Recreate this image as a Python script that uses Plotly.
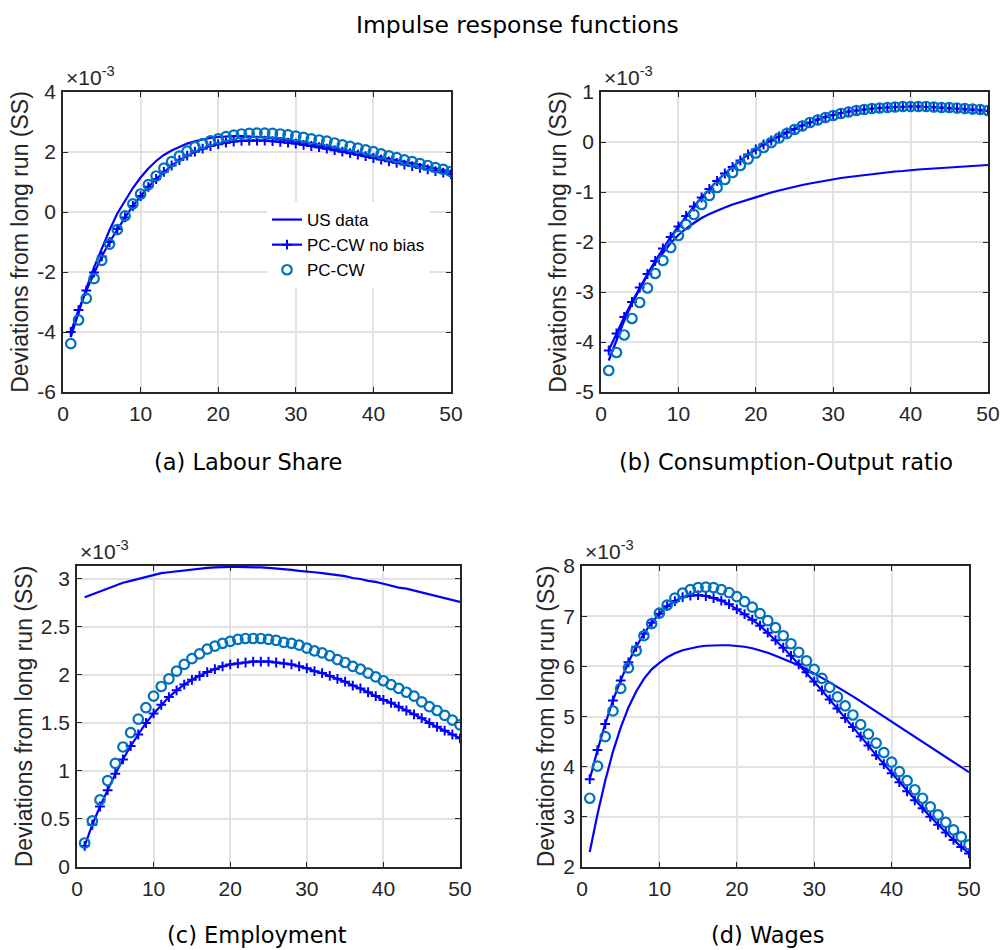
import plotly.graph_objects as go

# ---------------- data (values in units of 1e-3) ----------------
horizon = list(range(1, 51))

ls_us = [-4.17,-3.33,-2.55,-1.85,-1.2,-0.6,-0.05,0.4,0.8,1.15,1.45,1.7,1.9,2.05,2.17,2.28,2.36,2.42,2.47,2.5,
         2.52,2.53,2.53,2.52,2.51,2.49,2.46,2.43,2.4,2.36,2.32,2.28,2.23,2.19,2.14,2.09,2.04,1.99,1.94,1.89,
         1.84,1.78,1.73,1.68,1.62,1.57,1.51,1.46,1.4,1.34]
ls_nb = [-4.0,-3.27,-2.62,-2.02,-1.48,-1.0,-0.57,-0.18,0.2,0.53,0.84,1.1,1.34,1.55,1.73,1.88,2.01,2.11,2.2,2.26,
         2.31,2.35,2.37,2.38,2.38,2.38,2.36,2.34,2.31,2.28,2.24,2.2,2.16,2.11,2.06,2.01,1.96,1.91,1.86,1.8,
         1.75,1.69,1.64,1.58,1.53,1.47,1.42,1.36,1.31,1.26]
ls_pc = [-4.39,-3.6,-2.88,-2.22,-1.61,-1.07,-0.59,-0.13,0.27,0.6,0.91,1.2,1.46,1.68,1.86,2.03,2.17,2.28,2.37,2.44,
         2.51,2.56,2.6,2.62,2.63,2.63,2.62,2.6,2.57,2.53,2.49,2.44,2.4,2.36,2.3,2.24,2.19,2.13,2.07,2.01,
         1.94,1.87,1.81,1.74,1.68,1.61,1.55,1.48,1.42,1.35]

co_us = [-4.37,-3.95,-3.57,-3.23,-2.93,-2.66,-2.42,-2.21,-2.02,-1.86,-1.73,-1.62,-1.52,-1.44,-1.37,-1.31,-1.25,-1.2,-1.15,-1.1,
         -1.06,-1.01,-0.97,-0.93,-0.89,-0.86,-0.83,-0.8,-0.77,-0.74,-0.72,-0.7,-0.68,-0.66,-0.64,-0.62,-0.61,-0.59,-0.58,-0.56,
         -0.55,-0.54,-0.53,-0.52,-0.51,-0.5,-0.49,-0.48,-0.47,-0.46]
co_nb = [-4.17,-3.83,-3.5,-3.2,-2.91,-2.64,-2.38,-2.13,-1.9,-1.69,-1.48,-1.29,-1.11,-0.94,-0.78,-0.63,-0.5,-0.37,-0.25,-0.15,
         -0.05,0.03,0.11,0.19,0.26,0.33,0.39,0.45,0.5,0.54,0.58,0.61,0.63,0.65,0.67,0.68,0.69,0.7,0.7,0.71,
         0.71,0.7,0.7,0.69,0.68,0.67,0.66,0.65,0.64,0.62]
co_pc = [-4.57,-4.21,-3.86,-3.53,-3.21,-2.92,-2.63,-2.37,-2.11,-1.87,-1.65,-1.45,-1.25,-1.07,-0.91,-0.75,-0.61,-0.47,-0.34,-0.22,
         -0.11,-0.01,0.08,0.17,0.25,0.32,0.39,0.44,0.49,0.53,0.57,0.6,0.63,0.65,0.67,0.68,0.69,0.7,0.71,0.71,
         0.71,0.71,0.7,0.69,0.69,0.68,0.67,0.66,0.65,0.63]

em_us = [2.81,2.84,2.87,2.9,2.93,2.96,2.98,3.0,3.02,3.04,3.06,3.07,3.08,3.09,3.1,3.11,3.115,3.12,3.125,3.125,
         3.125,3.125,3.12,3.12,3.115,3.11,3.1,3.095,3.085,3.08,3.07,3.06,3.05,3.04,3.03,3.01,3.0,2.98,2.97,2.95,
         2.93,2.91,2.9,2.88,2.86,2.84,2.82,2.8,2.78,2.76]
em_nb = [0.22,0.44,0.63,0.8,0.97,1.12,1.26,1.38,1.5,1.6,1.69,1.77,1.84,1.9,1.95,1.99,2.03,2.06,2.09,2.11,
         2.12,2.13,2.14,2.14,2.14,2.13,2.12,2.11,2.09,2.07,2.04,2.02,1.99,1.96,1.93,1.89,1.86,1.82,1.78,1.74,
         1.71,1.67,1.63,1.59,1.55,1.5,1.46,1.42,1.38,1.34]
em_pc = [0.25,0.48,0.7,0.9,1.08,1.25,1.4,1.54,1.66,1.78,1.88,1.96,2.04,2.11,2.17,2.22,2.27,2.3,2.33,2.35,
         2.37,2.38,2.38,2.38,2.37,2.36,2.34,2.33,2.31,2.28,2.25,2.23,2.2,2.16,2.13,2.09,2.06,2.02,1.98,1.94,
         1.9,1.86,1.82,1.78,1.72,1.67,1.63,1.58,1.53,1.48]

wg_us = [2.3,3.05,3.72,4.3,4.78,5.18,5.5,5.75,5.94,6.07,6.18,6.26,6.32,6.36,6.39,6.41,6.42,6.42,6.42,6.41,
         6.39,6.36,6.32,6.27,6.21,6.15,6.09,6.02,5.94,5.86,5.77,5.68,5.59,5.5,5.4,5.3,5.2,5.1,5.0,4.9,
         4.8,4.7,4.6,4.5,4.4,4.3,4.19,4.09,3.99,3.89]
wg_nb = [3.75,4.33,4.85,5.32,5.72,6.08,6.39,6.65,6.87,7.05,7.2,7.3,7.38,7.41,7.42,7.4,7.36,7.31,7.24,7.14,
         7.04,6.93,6.81,6.67,6.52,6.37,6.21,6.04,5.88,5.7,5.52,5.34,5.16,4.97,4.79,4.6,4.42,4.23,4.05,3.87,
         3.69,3.51,3.33,3.17,3.0,2.84,2.69,2.54,2.4,2.27]
wg_pc = [3.37,4.01,4.6,5.11,5.56,5.97,6.31,6.61,6.85,7.06,7.22,7.36,7.46,7.53,7.57,7.58,7.57,7.53,7.47,7.39,
         7.29,7.18,7.05,6.91,6.77,6.61,6.45,6.28,6.11,5.94,5.76,5.58,5.39,5.21,5.03,4.84,4.65,4.47,4.28,4.09,
         3.9,3.72,3.54,3.37,3.2,3.04,2.89,2.74,2.6,2.44]

series_names = ["US data", "PC-CW no bias", "PC-CW"]
captions = ["(a) Labour Share", "(b) Consumption-Output ratio", "(c) Employment", "(d) Wages"]
x_ticks = [0, 10, 20, 30, 40, 50]
y_ticks = [
    [-6, -4, -2, 0, 2, 4],
    [-5, -4, -3, -2, -1, 0, 1],
    [0, 0.5, 1, 1.5, 2, 2.5, 3],
    [2, 3, 4, 5, 6, 7, 8],
]
y_tick_text = [
    ["-6", "-4", "-2", "0", "2", "4"],
    ["-5", "-4", "-3", "-2", "-1", "0", "1"],
    ["0", "0.5", "1", "1.5", "2", "2.5", "3"],
    ["2", "3", "4", "5", "6", "7", "8"],
]
y_ranges = [[-6, 4], [-5, 1], [0, 3.135], [2, 8]]
ylabel = "Deviations from long run (SS)"
title_text = "Impulse response functions"

data = [(ls_us, ls_nb, ls_pc), (co_us, co_nb, co_pc), (em_us, em_nb, em_pc), (wg_us, wg_nb, wg_pc)]

# ---------------- layout (pixel geometry) ----------------
W, H = 1002, 950
boxes = [  # left, right, top, bottom in px
    (63, 451, 92, 392),
    (601, 988, 92, 392),
    (77, 460, 566, 867),
    (582, 969, 566, 867),
]
cap_pos = [(248, 462), (786, 462), (257, 935), (767, 935)]

def px(xp):
    return xp / W

def py(yp):
    return 1 - yp / H

BLUE = "rgb(0,0,255)"
CIRC = "#0072BD"
AX = "#262626"
GRID = "#e2e2e2"
FONT = "Liberation Sans"
CAPFONT = "DejaVu Sans"

fig = go.Figure()
layout = dict(
    width=W, height=H, margin=dict(l=0, r=0, t=0, b=0, autoexpand=False),
    paper_bgcolor="white", plot_bgcolor="white",
    showlegend=True,
    legend=dict(x=px(267), y=py(202), xanchor="left", yanchor="top",
                bgcolor="white", borderwidth=0,
                font=dict(family=FONT, size=17, color="black"),
                tracegroupgap=0, itemwidth=30),
)
annotations = []

for i, (us, nb, pc) in enumerate(data):
    k = "" if i == 0 else str(i + 1)
    xa, ya = "x" + k, "y" + k
    show = i == 0
    fig.add_trace(go.Scatter(x=horizon, y=us, mode="lines", name=series_names[0],
                             line=dict(color=BLUE, width=2.2), xaxis=xa, yaxis=ya,
                             showlegend=show, legendrank=1))
    fig.add_trace(go.Scatter(x=horizon, y=nb, mode="lines+markers", name=series_names[1],
                             line=dict(color=BLUE, width=2.2),
                             marker=dict(symbol="cross-thin", size=7, color=BLUE,
                                         line=dict(color=BLUE, width=2)),
                             xaxis=xa, yaxis=ya, showlegend=show, legendrank=2))
    fig.add_trace(go.Scatter(x=horizon, y=pc, mode="markers", name=series_names[2],
                             marker=dict(symbol="circle-open", size=9.5, color=CIRC,
                                         line=dict(color=CIRC, width=2.2)),
                             xaxis=xa, yaxis=ya, showlegend=show, legendrank=3))
    l, r, t, b = boxes[i]
    common = dict(showline=True, linecolor=AX, linewidth=1.5, mirror="ticks",
                  ticks="inside", ticklen=5, tickwidth=1.2, tickcolor=AX,
                  showgrid=True, gridcolor=GRID, gridwidth=1.8, zeroline=False,
                  automargin=False,
                  tickfont=dict(family=FONT, size=21, color=AX))
    layout["xaxis" + k] = dict(domain=[px(l), px(r)], anchor=ya, range=[0, 50],
                               tickvals=x_ticks, ticktext=[str(v) for v in x_ticks],
                               ticklabelstandoff=2, **common)
    layout["yaxis" + k] = dict(domain=[py(b), py(t)], anchor=xa, range=y_ranges[i],
                               tickvals=y_ticks[i], ticktext=y_tick_text[i],
                               ticklabelstandoff=1,
                               title=dict(text=ylabel, standoff=2,
                                          font=dict(family=FONT, size=23, color=AX)),
                               **common)
    # exponent
    annotations.append(dict(text="\u00d710<sup>-3</sup>", xref="paper", yref="paper",
                            x=px(l + 1), y=py(t - 1), xanchor="left", yanchor="bottom",
                            showarrow=False, font=dict(family=FONT, size=21, color=AX)))
    # caption
    cx, cy = cap_pos[i]
    annotations.append(dict(text=captions[i], xref="paper", yref="paper",
                            x=px(cx), y=py(cy), xanchor="center", yanchor="middle",
                            showarrow=False, font=dict(family=CAPFONT, size=22.5, color="black")))

annotations.append(dict(text=title_text, xref="paper", yref="paper", x=px(517), y=py(25),
                        xanchor="center", yanchor="middle", showarrow=False,
                        font=dict(family=CAPFONT, size=23.5, color="black")))
layout["annotations"] = annotations
fig.update_layout(**layout)
fig.write_html("out.html", config={"displayModeBar": False},
               post_script="document.body.style.margin='0';")
